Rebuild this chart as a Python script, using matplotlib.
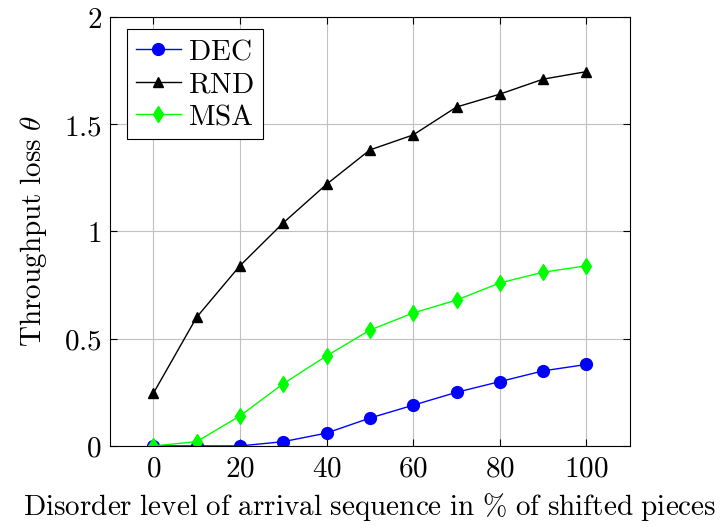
import matplotlib
matplotlib.use('Agg')
import matplotlib.pyplot as plt
from matplotlib.ticker import FuncFormatter

plt.rcParams['mathtext.fontset'] = 'cm'
plt.rcParams['font.family'] = 'serif'

x = [0, 10, 20, 30, 40, 50, 60, 70, 80, 90, 100]
dec = [0, 0, 0, 0.02, 0.06, 0.13, 0.19, 0.25, 0.30, 0.35, 0.38]
rnd = [0.245, 0.60, 0.84, 1.04, 1.22, 1.38, 1.45, 1.58, 1.64, 1.71, 1.745]
msa = [0, 0.02, 0.14, 0.29, 0.42, 0.54, 0.62, 0.68, 0.76, 0.81, 0.84]

fig = plt.figure(figsize=(7.26, 5.29), dpi=100)
ax = fig.add_axes([0.1515, 0.157, 0.716, 0.811])

ax.plot(x, dec, color='blue', marker='o', markersize=8.5, lw=1, label=r'$\mathrm{DEC}$')
ax.plot(x, rnd, color='black', marker='^', markersize=7.5, lw=1, label=r'$\mathrm{RND}$')
ax.plot(x, msa, color='#00ff00', marker='d', markersize=8, lw=1, label=r'$\mathrm{MSA}$')

ax.set_xlim(-10, 110)
ax.set_ylim(0, 2)
ax.set_xticks(x[::2])
ax.set_yticks([0, 0.5, 1, 1.5, 2])
ax.xaxis.set_major_formatter(FuncFormatter(lambda v, p: r'$%g$' % v))
ax.yaxis.set_major_formatter(FuncFormatter(lambda v, p: r'$%g$' % v))
ax.tick_params(direction='in', top=True, right=True, length=5, labelsize=21, width=0.8, pad=6)
ax.grid(True, color='#c0c0c0', lw=0.8)
ax.set_axisbelow(True)
for s in ax.spines.values():
    s.set_linewidth(0.8)

ax.set_xlabel(r'$\mathrm{Disorder\ level\ of\ arrival\ sequence\ in\ \%\ of\ shifted\ pieces}$', fontsize=21, labelpad=6)
ax.set_ylabel(r'$\mathrm{Throughput\ loss}\ \theta$', fontsize=21, labelpad=11)

leg = ax.legend(loc='upper left', fontsize=21, fancybox=False, framealpha=1,
                edgecolor='black', handlelength=1.55, borderpad=0.3, labelspacing=0.15,
                handletextpad=0.25, borderaxespad=0, bbox_to_anchor=(0.033, 0.972))
leg.get_frame().set_linewidth(0.8)

fig.savefig('out.png', dpi=100)
